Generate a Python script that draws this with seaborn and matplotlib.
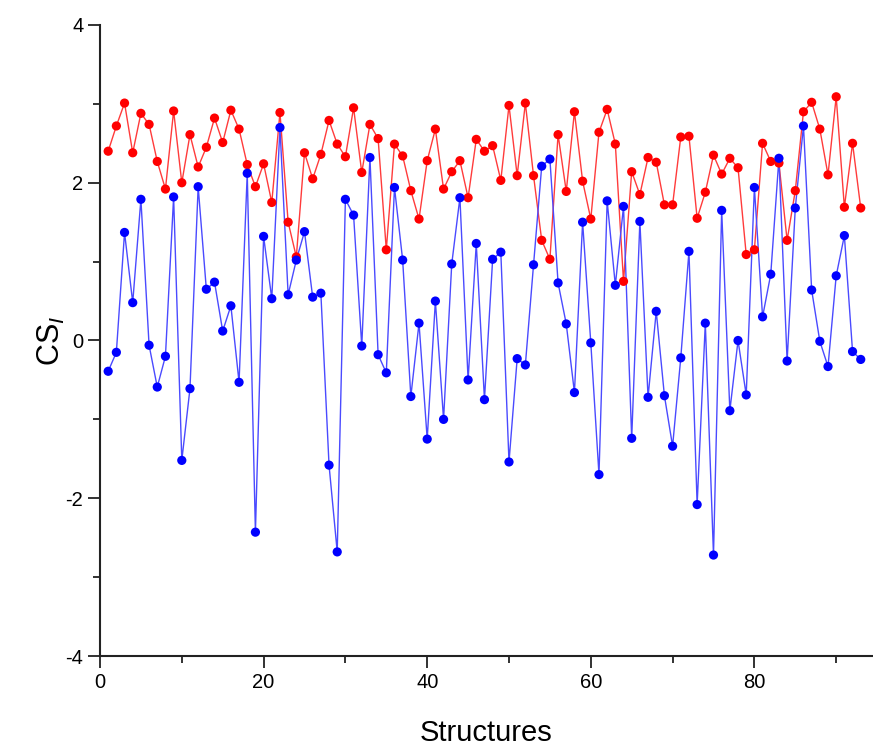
import matplotlib
matplotlib.use('Agg')
import matplotlib.pyplot as plt
import numpy as np
import pandas as pd
import seaborn as sns
from matplotlib.ticker import MultipleLocator

# values, one per structure (1..93)
red_vals = [2.40, 2.72, 3.01, 2.38, 2.88, 2.74, 2.27, 1.92, 2.91, 2.00,
            2.61, 2.20, 2.45, 2.82, 2.51, 2.92, 2.68, 2.23, 1.95, 2.24,
            1.75, 2.89, 1.50, 1.06, 2.38, 2.05, 2.36, 2.79, 2.49, 2.33,
            2.95, 2.13, 2.74, 2.56, 1.15, 2.49, 2.34, 1.90, 1.54, 2.28,
            2.68, 1.92, 2.14, 2.28, 1.81, 2.55, 2.40, 2.47, 2.03, 2.98,
            2.09, 3.01, 2.09, 1.27, 1.03, 2.61, 1.89, 2.90, 2.02, 1.54,
            2.64, 2.93, 2.49, 0.75, 2.14, 1.85, 2.32, 2.26, 1.72, 1.72,
            2.58, 2.59, 1.55, 1.88, 2.35, 2.11, 2.31, 2.19, 1.09, 1.15,
            2.50, 2.27, 2.25, 1.27, 1.90, 2.90, 3.02, 2.68, 2.10, 3.09,
            1.69, 2.50, 1.68]
blue_vals = [-0.39, -0.15, 1.37, 0.48, 1.79, -0.06, -0.59, -0.20, 1.82, -1.52,
             -0.61, 1.95, 0.65, 0.74, 0.12, 0.44, -0.53, 2.12, -2.43, 1.32,
             0.53, 2.70, 0.58, 1.02, 1.38, 0.55, 0.60, -1.58, -2.68, 1.79,
             1.59, -0.07, 2.32, -0.18, -0.41, 1.94, 1.02, -0.71, 0.22, -1.25,
             0.50, -1.00, 0.97, 1.81, -0.50, 1.23, -0.75, 1.03, 1.12, -1.54,
             -0.23, -0.31, 0.96, 2.21, 2.30, 0.73, 0.21, -0.66, 1.50, -0.03,
             -1.70, 1.77, 0.70, 1.70, -1.24, 1.51, -0.72, 0.37, -0.70, -1.34,
             -0.22, 1.13, -2.08, 0.22, -2.72, 1.65, -0.89, 0.00, -0.69, 1.94,
             0.30, 0.84, 2.31, -0.26, 1.68, 2.72, 0.64, -0.01, -0.33, 0.82,
             1.33, -0.14, -0.24]
structures = list(range(1, len(red_vals) + 1))

df = pd.concat([
    pd.DataFrame({'Structures': structures, 'CS': red_vals, 'series': 'red'}),
    pd.DataFrame({'Structures': structures, 'CS': blue_vals, 'series': 'blue'}),
]).reset_index(drop=True)

sns.set_style('ticks')
plt.rcParams['font.family'] = ['Liberation Sans', 'DejaVu Sans']
plt.rcParams['mathtext.fontset'] = 'custom'
plt.rcParams['mathtext.rm'] = 'Liberation Sans'
plt.rcParams['mathtext.it'] = 'Liberation Sans:italic'
plt.rcParams['axes.unicode_minus'] = False
plt.rcParams['text.color'] = 'black'
plt.rcParams['axes.labelcolor'] = 'black'
plt.rcParams['xtick.color'] = 'black'
plt.rcParams['ytick.color'] = 'black'

line_pal = {'red': '#ff3b3b', 'blue': '#4a4aff'}
mark_pal = {'red': '#ff0000', 'blue': '#0000ff'}

fig = plt.figure(figsize=(8.73, 7.48), dpi=100)
ax = fig.add_axes([100 / 873, 92 / 748, 773 / 873, 631 / 748])

sns.lineplot(data=df, x='Structures', y='CS', hue='series', palette=line_pal,
             linewidth=1.0, ax=ax, legend=False, estimator=None, sort=False)
sns.scatterplot(data=df, x='Structures', y='CS', hue='series', palette=mark_pal,
                s=44, linewidth=0, ax=ax, legend=False, zorder=3)

ax.set_xlim(0, 94.5)
ax.set_ylim(-4, 4)
ax.xaxis.set_major_locator(MultipleLocator(20))
ax.xaxis.set_minor_locator(MultipleLocator(10))
ax.yaxis.set_major_locator(MultipleLocator(2))
ax.yaxis.set_minor_locator(MultipleLocator(1))
ax.tick_params(which='major', length=8.5, width=1.3, labelsize=14.5, color='#222222')
ax.tick_params(which='minor', length=5, width=1.3, color='#222222')

ax.set_xlabel('Structures', fontsize=21, labelpad=20)
ax.set_ylabel('CS$_{I}$', fontsize=22)
ax.yaxis.set_label_coords(-0.043, 0.5)

sns.despine(ax=ax)
for side in ['left', 'bottom']:
    ax.spines[side].set_linewidth(1.5)
    ax.spines[side].set_color('#222222')

fig.savefig('out.png', dpi=100)
